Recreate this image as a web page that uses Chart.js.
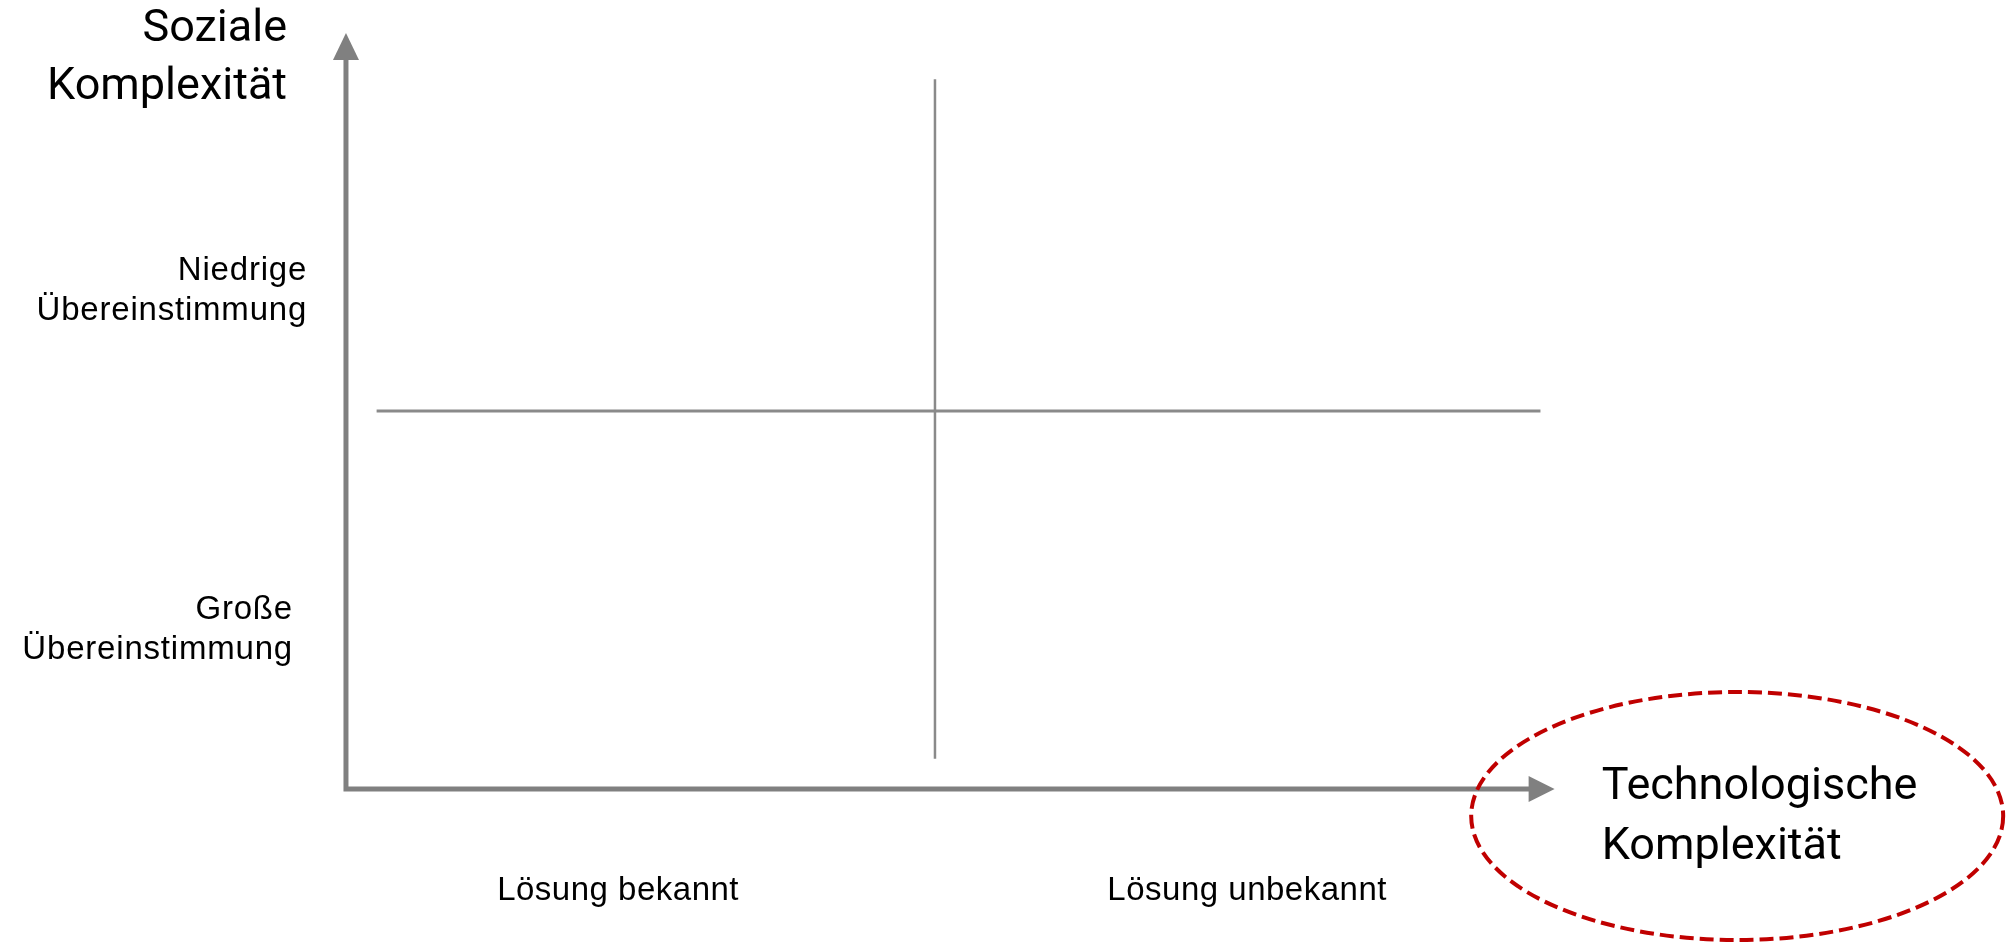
<!DOCTYPE html>
<html lang="de">
<head>
<meta charset="utf-8">
<title>Soziale und technologische Komplexität</title>
<script src="https://cdn.jsdelivr.net/npm/chart.js@4.4.1/dist/chart.umd.min.js"></script>
<style>
  html, body { margin: 0; padding: 0; background: #fff; }
  #wrap { width: 2006px; height: 943px; position: relative; }
</style>
</head>
<body>
<div id="wrap"><canvas id="matrix"></canvas></div>
<script>
// Achsen-Beschriftungen und Kategorien
const yAxisTitle = ['Soziale', 'Komplexität'];
const xAxisTitle = ['Technologische', 'Komplexität'];
const xCategories = ['Lösung bekannt', 'Lösung unbekannt'];
const xCategoryValues = [2.31, 7.65];
const yCategories = [['Niedrige', 'Übereinstimmung'], ['Große', 'Übereinstimmung']];
const yCategoryValues = [6.73, 2.25];

// Achsen (Endpunkte = Pfeilspitzen) und Quadranten-Teilung
const xAxisEnd = 10.26;
const yAxisEnd = 10;
const splitX = 5;
const splitY = 5;
const splitXRange = [0.4, 9.39];   // senkrechte Linie, y von..bis
const splitYRange = [0.26, 10.14]; // waagrechte Linie, x von..bis

// Hervorhebung um "Technologische Komplexität"
const highlightCenter = [11.81, -0.357];
const highlightRadius = [2.258, 1.64];

let axisColor = '#808080';
let splitColor = '#8a8a8a';

// Pfeilspitzen, Texte und Ellipse
let matrixPlugin = {
  id: 'matrixPlugin',
  afterDatasetsDraw(chart) {
    let ctx = chart.ctx;
    let sx = chart.scales.x;
    let sy = chart.scales.y;
    let px = v => sx.getPixelForValue(v);
    let py = v => sy.getPixelForValue(v);

    ctx.save();

    // Pfeilspitzen
    ctx.fillStyle = axisColor;
    let ox = px(0), oy = py(0);
    let ty = py(yAxisEnd);
    ctx.beginPath();
    ctx.moveTo(ox, ty);
    ctx.lineTo(ox + 13, ty + 27);
    ctx.lineTo(ox - 13, ty + 27);
    ctx.closePath();
    ctx.fill();

    let tx = px(xAxisEnd);
    ctx.beginPath();
    ctx.moveTo(tx, oy);
    ctx.lineTo(tx - 26, oy - 13);
    ctx.lineTo(tx - 26, oy + 13);
    ctx.closePath();
    ctx.fill();

    // Achsentitel
    ctx.fillStyle = '#000';
    ctx.textBaseline = 'alphabetic';
    ctx.font = '400 45px Roboto';
    ctx.textAlign = 'right';
    yAxisTitle.forEach((t, i) => ctx.fillText(t, px(-0.5), py(9.9) + i * 58));
    ctx.textAlign = 'left';
    xAxisTitle.forEach((t, i) => ctx.fillText(t, px(10.66), py(-0.13) + i * 60));

    // Kategorien
    ctx.font = '33px "Liberation Sans", Arial, sans-serif';
    ctx.letterSpacing = '0.8px';
    ctx.textAlign = 'right';
    let yRight = [-0.33, -0.45];
    yCategories.forEach((lines, k) => {
      lines.forEach((t, i) => ctx.fillText(t, px(yRight[k]), py(yCategoryValues[k]) + i * 40));
    });
    ctx.textAlign = 'center';
    ctx.letterSpacing = '0.5px';
    xCategories.forEach((t, k) => ctx.fillText(t, px(xCategoryValues[k]), py(-1.47)));
    ctx.letterSpacing = '0px';

    // gestrichelte Ellipse
    let cx = px(highlightCenter[0]);
    let cy = py(highlightCenter[1]);
    let rx = px(highlightCenter[0] + highlightRadius[0]) - cx;
    let ry = cy - py(highlightCenter[1] + highlightRadius[1]);
    ctx.strokeStyle = '#c00000';
    ctx.lineWidth = 4;
    ctx.setLineDash([14, 6]);
    ctx.beginPath();
    ctx.ellipse(cx, cy, rx, ry, 0, 0, Math.PI * 2);
    ctx.stroke();

    ctx.restore();
  }
};

let config = {
  type: 'scatter',
  data: {
    datasets: [
      {
        label: 'Achsen',
        data: [{ x: 0, y: yAxisEnd - 0.3 }, { x: 0, y: 0 }, { x: xAxisEnd - 0.2, y: 0 }],
        borderColor: axisColor,
        borderWidth: 5,
        borderJoinStyle: 'miter',
      },
      {
        label: 'senkrecht',
        data: [{ x: splitX, y: splitXRange[0] }, { x: splitX, y: splitXRange[1] }],
        borderColor: splitColor,
        borderWidth: 2.5,
      },
      {
        label: 'waagrecht',
        data: [{ x: splitYRange[0], y: splitY }, { x: splitYRange[1], y: splitY }],
        borderColor: splitColor,
        borderWidth: 3,
      }
    ]
  },
  options: {
    responsive: true,
    maintainAspectRatio: false,
    animation: false,
    layout: { padding: 0 },
    datasets: {
      scatter: { showLine: true, pointRadius: 0, pointHoverRadius: 0, tension: 0, clip: false }
    },
    scales: {
      x: { type: 'linear', display: false, min: -2.937, max: 14.092 },
      y: { type: 'linear', display: false, min: -2.037, max: 10.437 }
    },
    plugins: {
      legend: { display: false },
      tooltip: { enabled: false }
    }
  },
  plugins: [matrixPlugin]
};

new Chart(document.getElementById('matrix'), config);
</script>
</body>
</html>
